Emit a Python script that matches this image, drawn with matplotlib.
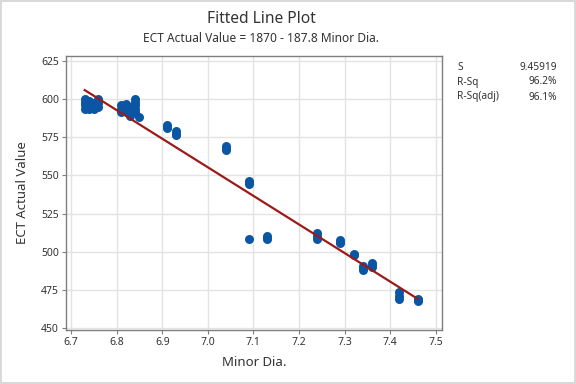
import matplotlib
matplotlib.use("Agg")
import matplotlib.pyplot as plt

plt.rcParams['font.family'] = ['Noto Sans', 'DejaVu Sans']

# Data
minor_dia = [6.73, 6.73, 6.73, 6.73,
             6.74, 6.74, 6.74, 6.74,
             6.75, 6.75, 6.75,
             6.76, 6.76, 6.76,
             6.81, 6.81, 6.81,
             6.82, 6.82, 6.82,
             6.83, 6.83, 6.83, 6.83,
             6.84, 6.84, 6.84, 6.84, 6.84,
             6.85,
             6.91, 6.91, 6.91,
             6.93, 6.93, 6.93,
             7.04, 7.04, 7.04,
             7.09, 7.09, 7.09, 7.09,
             7.13, 7.13, 7.13,
             7.24, 7.24, 7.24,
             7.29, 7.29, 7.29,
             7.32, 7.32,
             7.34, 7.34, 7.34,
             7.36, 7.36, 7.36,
             7.42, 7.42, 7.42,
             7.46, 7.46, 7.46]
ect_value = [594, 596, 598, 600.5,
             593.5, 595, 597, 599,
             594, 596, 597.5,
             595, 597.5, 600,
             592, 594, 596,
             593, 595, 597,
             589, 591, 593, 595,
             592, 594, 596, 598, 600.5,
             588.5,
             581, 582, 583.5,
             576.5, 577.5, 579,
             567, 568, 569.5,
             544.5, 545.5, 546.5, 508,
             508, 509, 510,
             508, 510, 512,
             505.5, 506.5, 507.5,
             497.5, 498.5,
             488, 489, 490.5,
             490, 491.5, 492.5,
             469, 471, 473.5,
             467.5, 468.5, 469]

intercept = 1870.0
slope = -187.8
stat_names = ["S", "R-Sq", "R-Sq(adj)"]
stat_values = ["9.45919", "96.2%", "96.1%"]
x_ticks = [6.7, 6.8, 6.9, 7.0, 7.1, 7.2, 7.3, 7.4, 7.5]
y_ticks = [450, 475, 500, 525, 550, 575, 600, 625]

W, H = 576, 384
fig = plt.figure(figsize=(W / 100, H / 100), dpi=100)
fig.patch.set_facecolor('white')
fig.patch.set_edgecolor('#d9d9d9')
fig.patch.set_linewidth(1.5)

ax = fig.add_axes([66 / W, 1 - 330 / H, (442 - 66) / W, (330 - 56) / H])

ax.scatter(minor_dia, ect_value, s=42, color='#0b56a4', zorder=3, linewidths=0)
xmin, xmax = min(minor_dia), max(minor_dia)
ax.plot([xmin, xmax], [intercept + slope * xmin, intercept + slope * xmax],
        color='#9b1a1a', lw=1.6, zorder=4)

ax.set_xlim(6.689, 7.5136)
ax.set_ylim(448.5, 628.5)
ax.set_xticks(x_ticks)
ax.set_xticklabels([f"{v:.1f}" for v in x_ticks])
ax.set_yticks(y_ticks)
ax.grid(True, color='#e3e3e3', lw=1.0, zorder=0)
ax.set_axisbelow(True)
for sp in ax.spines.values():
    sp.set_color('#7f7f7f')
    sp.set_linewidth(1.0)
ax.tick_params(axis='both', labelsize=7.5, colors='#7f7f7f', labelcolor='#333333',
               length=3, width=0.8, pad=2)

ax.set_xlabel("Minor Dia.", fontsize=9.5, color='#333333', labelpad=6)
ax.set_ylabel("ECT Actual Value", fontsize=9.5, color='#333333', labelpad=9)

fig.text(261 / W, 1 - 19 / H, "Fitted Line Plot", ha='center', va='center',
         fontsize=11.2, color='#333333', fontweight='light')
fig.text(261 / W, 1 - 38 / H, "ECT Actual Value = 1870 - 187.8 Minor Dia.",
         ha='center', va='center', fontsize=8.6, color='#333333')

for i, (n, v) in enumerate(zip(stat_names, stat_values)):
    yy = 1 - (67 + 15 * i) / H
    fig.text(457 / W, yy, n, ha='left', va='center', fontsize=7.3, color='#333333')
    fig.text(557 / W, yy, v, ha='right', va='center', fontsize=7.3, color='#333333')

fig.savefig("out.png", dpi=100)
